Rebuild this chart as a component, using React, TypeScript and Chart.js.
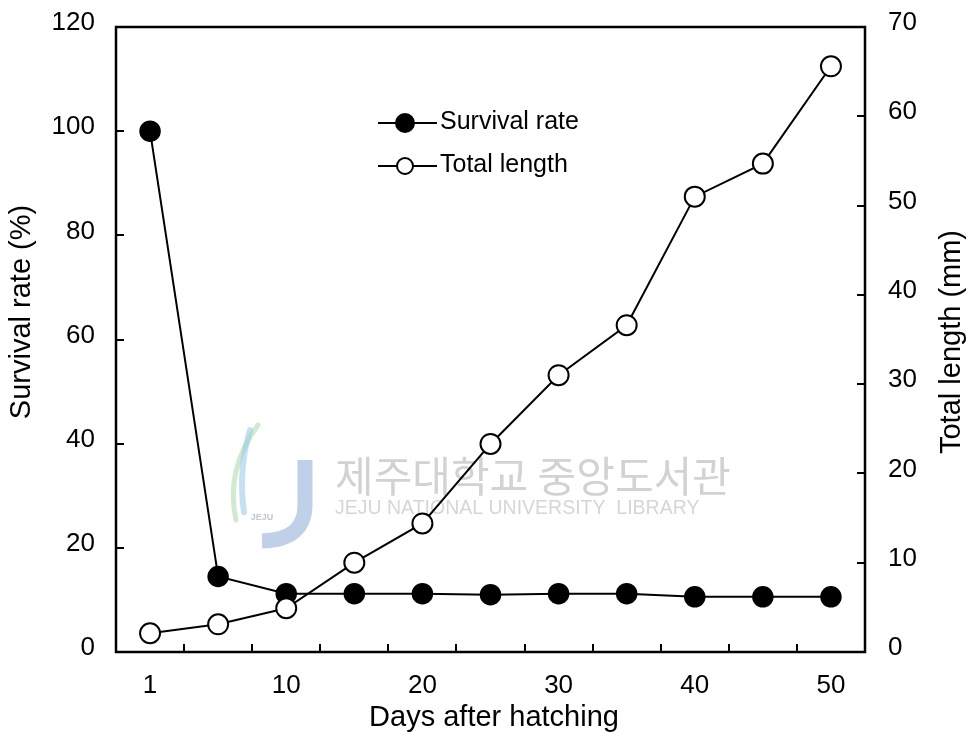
import { useEffect, useRef } from 'react';
import { Chart, registerables } from 'chart.js';

Chart.register(...registerables);

// Sampling days and measurements
const days = [1, 5, 10, 15, 20, 25, 30, 35, 40, 45, 50];
const survivalRate = [100, 14.5, 11.2, 11.2, 11.2, 11.0, 11.2, 11.2, 10.6, 10.6, 10.6];
const totalLength = [2.1, 3.1, 4.9, 10.0, 14.4, 23.3, 31.0, 36.6, 51.0, 54.7, 65.6];

// Days that carry a label on the x axis
const labeledDays = [1, 10, 20, 30, 40, 50];

// Axis ranges and inner tick marks
const survivalRange = [0, 120];
const survivalStep = 20;
const lengthRange = [0, 70];
const lengthStep = 10;

const FONT = '"Liberation Sans", Arial, Helvetica, sans-serif';

const framePlugin = {
  id: 'frameAndTicks',
  afterDraw(chart: any) {
    const { ctx, chartArea } = chart;
    const { left, right, top, bottom } = chartArea;
    const x = chart.scales.x;
    const y = chart.scales.y;
    const y1 = chart.scales.y1;
    const tl = 8;
    ctx.save();
    ctx.strokeStyle = '#000';
    ctx.lineWidth = 2.5;
    ctx.strokeRect(left, top, right - left, bottom - top);
    ctx.lineWidth = 2;
    ctx.beginPath();
    // x tick marks sit between the sampling days, pointing inward
    for (let i = 0; i < days.length - 1; i++) {
      const px = Math.round((x.getPixelForTick(i) + x.getPixelForTick(i + 1)) / 2);
      ctx.moveTo(px, bottom);
      ctx.lineTo(px, bottom - tl);
    }
    for (let v = survivalRange[0] + survivalStep; v < survivalRange[1]; v += survivalStep) {
      const py = Math.round(y.getPixelForValue(v));
      ctx.moveTo(left, py);
      ctx.lineTo(left + tl, py);
    }
    for (let v = lengthRange[0] + lengthStep; v < lengthRange[1]; v += lengthStep) {
      const py = Math.round(y1.getPixelForValue(v));
      ctx.moveTo(right, py);
      ctx.lineTo(right - tl, py);
    }
    ctx.stroke();

    // axis titles
    ctx.fillStyle = '#000';
    ctx.font = `29px ${FONT}`;
    ctx.textAlign = 'center';
    ctx.textBaseline = 'middle';
    ctx.fillText('Days after hatching', 494, 718);
    ctx.save();
    ctx.translate(22, 312);
    ctx.rotate(-Math.PI / 2);
    ctx.fillText('Survival rate (%)', 0, 0);
    ctx.restore();
    ctx.save();
    ctx.translate(952, 342);
    ctx.rotate(-Math.PI / 2);
    ctx.fillText('Total length (mm)', 0, 0);
    ctx.restore();

    // legend
    const lx0 = 378;
    const lx1 = 437;
    const mx = 405;
    const rows = [
      { y: 123, text: 'Survival rate', filled: true },
      { y: 166, text: 'Total length', filled: false },
    ];
    ctx.font = `25px ${FONT}`;
    ctx.textAlign = 'left';
    rows.forEach((r) => {
      ctx.lineWidth = 2;
      ctx.beginPath();
      ctx.moveTo(lx0, r.y);
      ctx.lineTo(lx1, r.y);
      ctx.stroke();
      ctx.beginPath();
      ctx.arc(mx, r.y, r.filled ? 9 : 8, 0, Math.PI * 2);
      ctx.fillStyle = r.filled ? '#000' : '#fff';
      ctx.fill();
      ctx.stroke();
      ctx.fillStyle = '#000';
      ctx.fillText(r.text, 440, r.y - 1);
    });
    ctx.restore();
  },
};

const watermarkPlugin = {
  id: 'libraryMark',
  beforeDatasetsDraw(chart: any) {
    const { ctx } = chart;
    ctx.save();
    // logo swooshes
    ctx.lineCap = 'round';
    ctx.strokeStyle = 'rgba(170, 215, 170, 0.55)';
    ctx.lineWidth = 5;
    ctx.beginPath();
    ctx.moveTo(258, 425);
    ctx.quadraticCurveTo(225, 470, 236, 520);
    ctx.stroke();
    ctx.strokeStyle = 'rgba(150, 200, 230, 0.55)';
    ctx.lineWidth = 6;
    ctx.beginPath();
    ctx.moveTo(250, 430);
    ctx.quadraticCurveTo(238, 470, 244, 512);
    ctx.stroke();
    // logo J
    ctx.strokeStyle = 'rgba(140, 170, 215, 0.55)';
    ctx.lineWidth = 15;
    ctx.lineCap = 'butt';
    ctx.beginPath();
    ctx.moveTo(305, 460);
    ctx.lineTo(305, 505);
    ctx.quadraticCurveTo(305, 540, 262, 541);
    ctx.stroke();
    ctx.fillStyle = 'rgba(150, 160, 180, 0.6)';
    ctx.font = `bold 9px ${FONT}`;
    ctx.textAlign = 'center';
    ctx.textBaseline = 'middle';
    ctx.fillText('JEJU', 262, 518);
    // library name
    ctx.fillStyle = '#d2d2d2';
    ctx.textAlign = 'left';
    ctx.font = `42px "Noto Sans CJK KR", sans-serif`;
    ctx.fillText('제주대학교 중앙도서관', 335, 476);
    ctx.font = `19.5px ${FONT}`;
    ctx.fillStyle = '#d6d6d6';
    ctx.fillText('JEJU NATIONAL UNIVERSITY  LIBRARY', 335, 509);
    ctx.restore();
  },
};

export default function App() {
  const canvasRef = useRef<HTMLCanvasElement | null>(null);

  useEffect(() => {
    const canvas = canvasRef.current;
    if (!canvas) return;
    const tickFont = { family: FONT, size: 26 };
    const fitVertical = (w: number) => (s: any) => {
      s.width = w;
      s.paddingTop = 0;
      s.paddingBottom = 0;
    };
    const chart = new Chart(canvas, {
      type: 'line',
      data: {
        labels: days.map(String),
        datasets: [
          {
            label: 'Survival rate',
            data: survivalRate,
            yAxisID: 'y',
            order: 1,
            borderColor: '#000',
            borderWidth: 2,
            pointRadius: 10,
            pointBackgroundColor: '#000',
            pointBorderColor: '#000',
            pointBorderWidth: 1.5,
            tension: 0,
          },
          {
            label: 'Total length',
            data: totalLength,
            yAxisID: 'y1',
            order: 0,
            borderColor: '#000',
            borderWidth: 2,
            pointRadius: 10,
            pointBackgroundColor: '#fff',
            pointBorderColor: '#000',
            pointBorderWidth: 2,
            tension: 0,
          },
        ],
      },
      options: {
        responsive: false,
        animation: false,
        devicePixelRatio: 1,
        layout: { padding: { top: 27, left: 0, right: 0, bottom: 0 } },
        plugins: {
          legend: { display: false },
          tooltip: { enabled: false },
        },
        scales: {
          x: {
            type: 'category',
            offset: true,
            grid: { display: false, drawTicks: false },
            border: { display: false },
            ticks: {
              autoSkip: false,
              maxRotation: 0,
              padding: 18,
              color: '#000',
              font: tickFont,
              callback: (_v: any, i: number) =>
                labeledDays.includes(days[i]) ? String(days[i]) : '',
            },
            afterFit: (s: any) => {
              s.height = 93;
              s.paddingLeft = 0;
              s.paddingRight = 0;
            },
          },
          y: {
            position: 'left',
            min: survivalRange[0],
            max: survivalRange[1],
            grid: { display: false, drawTicks: false },
            border: { display: false },
            ticks: {
              stepSize: survivalStep,
              padding: 21,
              labelOffset: -4,
              color: '#000',
              font: tickFont,
            },
            afterFit: fitVertical(116),
          },
          y1: {
            position: 'right',
            min: lengthRange[0],
            max: lengthRange[1],
            grid: { display: false, drawTicks: false },
            border: { display: false },
            ticks: {
              stepSize: lengthStep,
              padding: 23,
              labelOffset: -4,
              color: '#000',
              font: tickFont,
            },
            afterFit: fitVertical(108),
          },
        },
      },
      plugins: [watermarkPlugin, framePlugin],
    });
    return () => chart.destroy();
  }, []);

  return (
    <div style={{ position: 'absolute', left: 0, top: 0, width: 973, height: 745, background: '#fff' }}>
      <canvas ref={canvasRef} width={973} height={745} style={{ width: 973, height: 745, display: 'block' }} />
    </div>
  );
}
